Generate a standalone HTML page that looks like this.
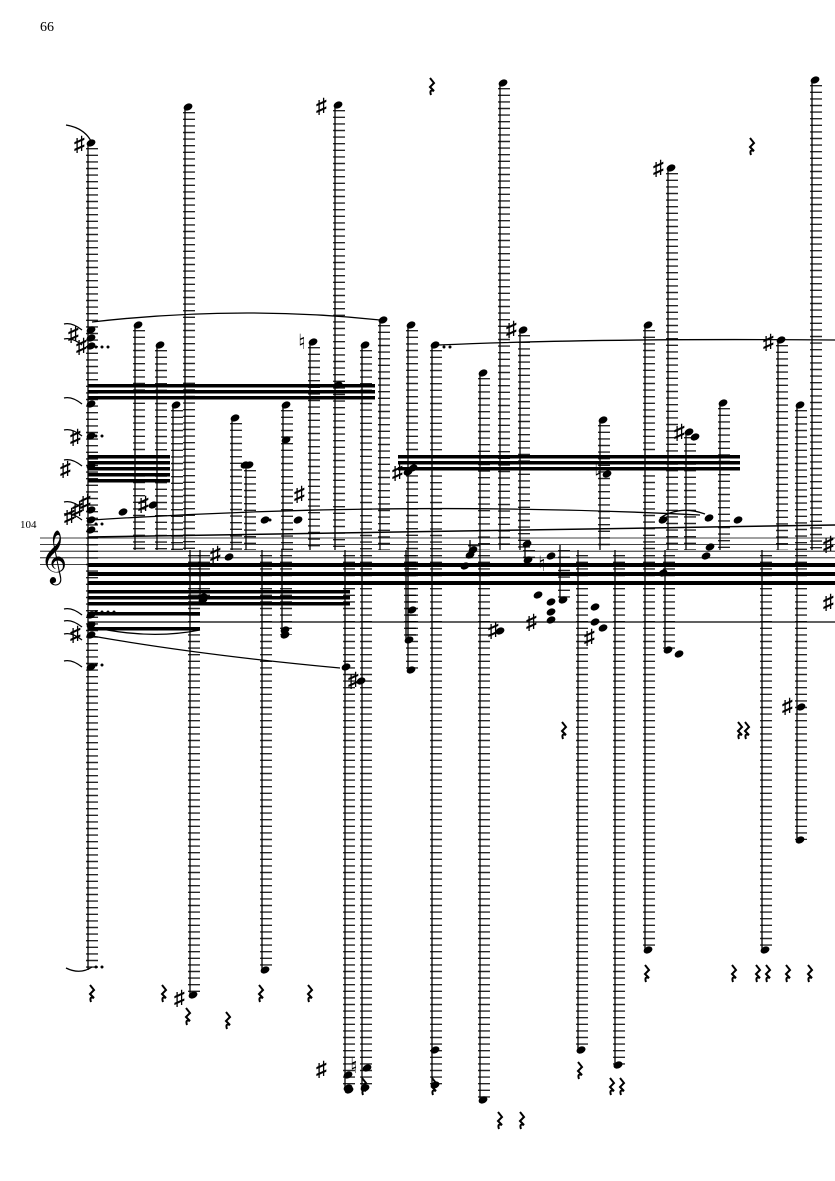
<!DOCTYPE html>
<html><head><meta charset="utf-8"><style>
html,body{margin:0;padding:0;background:#fff;}
svg{display:block}
text{font-family:"Liberation Serif","DejaVu Serif",serif;fill:#000}
</style></head><body>
<svg id="s" width="835" height="1181" viewBox="0 0 835 1181" xmlns="http://www.w3.org/2000/svg">
<text x="40" y="31" font-size="14">66</text>
<text x="20" y="528" font-size="11">104</text>
<text x="40" y="572" font-size="46">𝄞</text>
<g id="g"></g>
<g font-size="21" font-weight="bold" font-family="DejaVu Sans">
<text x="74" y="151">♯</text>
<text x="316" y="113">♯</text>
<text x="653" y="175">♯</text>
<text x="506" y="336">♯</text>
<text x="763" y="349">♯</text>
<text x="68" y="341">♯</text><text x="76" y="353">♯</text>
<text x="70" y="444">♯</text>
<text x="60" y="476">♯</text>
<text x="64" y="523">♯</text><text x="72" y="516">♯</text><text x="80" y="509">♯</text>
<text x="138" y="511">♯</text>
<text x="210" y="561">♯</text>
<text x="294" y="501">♯</text>
<text x="392" y="479">♯</text>
<text x="674" y="439">♯</text>
<text x="823" y="551">♯</text><text x="823" y="609">♯</text>
<text x="70" y="641">♯</text>
<text x="526" y="629">♯</text>
<text x="584" y="644">♯</text>
<text x="488" y="637">♯</text>
<text x="348" y="687">♯</text>
<text x="782" y="713">♯</text>
<text x="174" y="1005">♯</text>
<text x="316" y="1076">♯</text>
<text x="594" y="479">♮</text><text x="298" y="349">♮</text><text x="350" y="1073">♮</text><text x="538" y="571">♮</text>
</g>
</svg>
<script>
const g=document.getElementById('g');const NS='http://www.w3.org/2000/svg';
function el(t,a){const e=document.createElementNS(NS,t);for(const k in a)e.setAttribute(k,a[k]);g.appendChild(e);return e;}
for(let i=0;i<5;i++)el('line',{x1:40,x2:835,y1:538+i*6.6,y2:538+i*6.6,stroke:'#000','stroke-width':0.8});
const stems=[[88,143,970],[185,107,550],[190,550,995],[135,325,550],[157,345,550],[173,405,550],[232,418,550],[246,465,550],[262,550,970],[283,405,550],[310,342,550],[335,105,550],[345,550,1088],[362,345,550],[362,550,1088],[380,320,550],[408,325,550],[408,550,670],[432,345,550],[432,550,1085],[480,373,550],[480,550,1100],[500,83,550],[520,330,550],[578,550,1050],[600,420,550],[615,550,1065],[645,325,550],[645,550,950],[668,168,550],[686,432,550],[720,403,550],[762,550,950],[778,340,550],[797,405,550],[797,550,840],[812,80,550],[200,550,600],[282,550,635],[406,550,640],[470,540,550],[525,545,560],[560,545,600],[665,550,650]];
for(const [x,a,b] of stems){
 el('line',{x1:x+4,x2:x+4,y1:a+5,y2:b,stroke:'#000','stroke-width':12,'stroke-dasharray':'1.4 5.2',opacity:0.85});
 el('line',{x1:x,x2:x,y1:a,y2:b,stroke:'#000','stroke-width':1.3});
 const hy=(a<540)?a:b;
 el('ellipse',{cx:x+3,cy:hy,rx:4.6,ry:3.3,transform:`rotate(-25 ${x+3} ${hy})`});
}
[[88,330],[88,338],[88,346],[88,404],[88,436],[88,466],[88,510],[88,520],[88,530],[120,512],[150,505],[226,557],[262,520],[295,520],[242,465],[283,440],[335,385],[405,472],[410,468],[462,566],[467,555],[524,544],[548,556],[548,602],[548,612],[592,607],[592,622],[604,474],[660,520],[692,437],[706,518],[735,520],[707,547],[703,556],[660,573],[88,615],[88,625],[88,635],[88,667],[200,597],[282,630],[409,610],[497,631],[535,595],[548,620],[600,628],[676,654],[798,707],[343,667],[358,681],[346,1090],[364,1068],[432,1050],[578,1050],[615,1065],[345,1075]].forEach(([x,y])=>el('ellipse',{cx:x+3,cy:y,rx:4.6,ry:3.3,transform:`rotate(-25 ${x+3} ${y})`}));
function beam(x1,x2,y,w){el('rect',{x:x1,y:y,width:x2-x1,height:w||3.5});}
beam(88,375,384);beam(88,375,390);beam(88,375,396);
beam(88,170,455);beam(88,170,461);beam(88,170,467);beam(88,170,473);beam(88,170,479);
beam(398,740,455);beam(398,740,461);beam(398,740,467);
beam(88,835,563,4);beam(88,835,572,4);beam(88,835,581,4);
beam(88,350,590);beam(88,350,596);beam(88,350,602);
beam(88,200,612);beam(88,200,627);
el('line',{x1:88,x2:835,y1:622,y2:622,stroke:'#000','stroke-width':1.2});
el('line',{x1:88,x2:835,y1:537,y2:525,stroke:'#000','stroke-width':1.5});
function arc(d){el('path',{d:d,fill:'none',stroke:'#000','stroke-width':1.3});}
arc('M92 322 Q240 305 380 320');arc('M438 345 Q600 338 835 340');arc('M92 520 Q400 500 700 515');
arc('M92 636 Q200 655 340 668');arc('M92 627 Q150 640 200 630');arc('M92 967 Q80 975 66 968');
arc('M92 143 Q85 128 66 125');arc('M660 518 Q680 505 705 514');
for(const y of [330,345,404,436,466,508,520,615,627,640,667])arc(`M82 ${y} Q72 ${y-8} 64 ${y-6}`);
[[96,347],[102,347],[108,347],[96,436],[102,436],[96,524],[102,524],[96,612],[102,612],[108,612],[114,612],[96,665],[102,665],[444,347],[450,347],[96,967],[102,967],[270,520]].forEach(([x,y])=>el('circle',{cx:x,cy:y,r:1.5}));
function rest(x,y){el('path',{d:`M${x} ${y} l4 5 l-4 4 l4 4 q-5 -2 -3 4`,fill:'none',stroke:'#000','stroke-width':2});}
[[430,78],[750,138],[562,722],[738,722],[745,722],[162,985],[186,1008],[226,1012],[259,985],[308,985],[362,1078],[432,1078],[498,1112],[520,1112],[578,1062],[610,1078],[620,1078],[645,965],[732,965],[756,965],[766,965],[786,965],[808,965],[90,985]].forEach(([x,y])=>rest(x,y));
</script>
</body></html>
